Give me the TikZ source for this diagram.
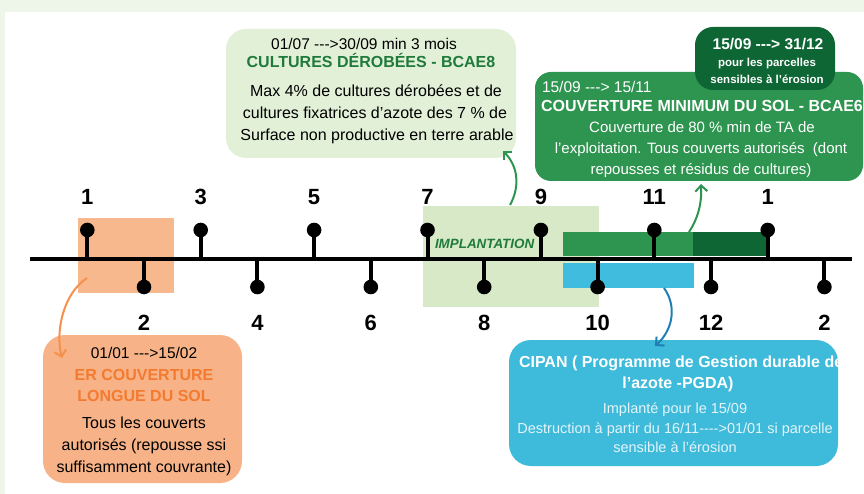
\documentclass[tikz,border=0pt]{standalone}
\usepackage{fontspec}
\setmainfont{Liberation Sans}
\usetikzlibrary{arrows.meta}
\definecolor{bgl}{HTML}{EEF6EA}
\definecolor{orsq}{HTML}{F8B88E}
\definecolor{orbox}{HTML}{F7B387}
\definecolor{implg}{HTML}{D7E9C7}
\definecolor{topg}{HTML}{E2F0D7}
\definecolor{medg}{HTML}{2E9550}
\definecolor{darkg}{HTML}{0D6633}
\definecolor{bluebar}{HTML}{40BDDE}
\definecolor{bluebox}{HTML}{3EBADB}
\definecolor{txtg}{HTML}{1F7A3B}
\definecolor{txto}{HTML}{F47A30}
\definecolor{arrg}{HTML}{2E9550}
\definecolor{arrb}{HTML}{1F7FB3}
\definecolor{arro}{HTML}{F5914E}
\definecolor{lightw}{HTML}{E4F5FA}
\newcommand{\dsh}{-{}}
\begin{document}
\begin{tikzpicture}[x=1pt,y=-1pt,
  rect/.style={inner sep=0pt,outer sep=0pt,draw=none},
  box/.style={inner sep=0pt,outer sep=0pt,draw=none},
  txt/.style={inner sep=0pt,outer sep=0pt,anchor=base},
  fA/.style={font=\fontsize{15.5}{18}\selectfont},
  fB/.style={font=\bfseries\fontsize{16}{19}\selectfont},
  fC/.style={font=\fontsize{16}{19}\selectfont},
  fD/.style={font=\fontsize{15}{18}\selectfont},
  fE/.style={font=\fontsize{14.5}{17}\selectfont},
  num/.style={inner sep=0pt,anchor=base,font=\bfseries\fontsize{22}{24}\selectfont},
  stick/.style={line width=4pt},
  ball/.style={fill=black},
  arr/.style={line width=2pt,-{Straight Barb[length=6pt,width=12pt,line width=2pt]}}
]
\useasboundingbox (0,0) rectangle (864,494);
\fill[bgl] (0,0) rectangle (864,494);
\fill[white] (5,12) rectangle (864,494);

% background rectangles and bars
\node[rect,fill=orsq,minimum width=95.7pt,minimum height=75pt] (orsq) at (126.2,255.2) {};
\node[rect,fill=implg,minimum width=176.3pt,minimum height=100.7pt] (impl) at (510.9,256.4) {};
\node[rect,fill=medg,minimum width=130pt,minimum height=24.3pt] (gbar) at (627.7,243.9) {};
\node[rect,fill=darkg,minimum width=76.3pt,minimum height=24.3pt] (dbar) at (730.8,243.9) {};
\node[rect,fill=bluebar,minimum width=130.7pt,minimum height=25pt] (bbar) at (628.7,275.2) {};
\node[txt,font=\bfseries\itshape\fontsize{13.4}{15}\selectfont,text=txtg,anchor=west] (implt) at (435,243.5) {IMPLANTATION};

% main line
\coordinate (lstart) at (30,259);
\coordinate (lend) at (852,259);
\draw[line width=4pt] (lstart) -- (lend);

% ticks
\foreach \k/\lab in {1/1,3/3,5/5,7/7,9/9,11/11,13/1}{
  \pgfmathsetmacro{\xx}{87.3+56.7*(\k-1)}
  \coordinate (up\k) at (\xx,259);
  \draw[stick] (up\k) -- ++(0,-29);
  \fill[ball] (\xx,230) circle (7.3pt);
  \node[num] (n\k) at (\xx,205) {\lab};
}
\foreach \k/\lab in {2/2,4/4,6/6,8/8,10/10,12/12,14/2}{
  \pgfmathsetmacro{\xx}{87.3+56.7*(\k-1)}
  \coordinate (dn\k) at (\xx,259);
  \draw[stick] (dn\k) -- ++(0,28);
  \fill[ball] (\xx,287) circle (7.3pt);
  \node[num] (n\k) at (\xx,330) {\lab};
}

% top light green box
\node[box,fill=topg,rounded corners=20pt,minimum width=290pt,minimum height=129pt] (derob) at (371,93.5) {};
\node[txt,fA] (d1) at (364,49.5) {01/07 \dsh\dsh\dsh>30/09 min 3 mois};
\node[txt,fB,text=txtg] (d2) at (371,68) {CULTURES DÉROBÉES - BCAE8};
\node[txt,fC] (d3) at (376,97) {Max 4\% de cultures dérobées et de};
\node[txt,fC] (d4) at (375,119) {cultures fixatrices d’azote des 7 \% de};
\node[txt,fC] (d5) at (377,141) {Surface non productive en terre arable};

% big green box
\node[box,fill=medg,rounded corners=16pt,minimum width=328pt,minimum height=109pt] (couv) at (699,126.5) {};
\node[txt,fA,text=white,anchor=base west] (c1) at (542,92.5) {15/09 \dsh\dsh\dsh> 15/11};
\node[txt,fB,text=white] (c2) at (702,112) {COUVERTURE MINIMUM DU SOL - BCAE6};
\node[txt,fD,text=white] (c3) at (702,132.5) {Couverture de 80 \% min de TA de};
\node[txt,fD,text=white] (c4) at (701,153.5) {l’exploitation. Tous couverts autorisés\ \ (dont};
\node[txt,fD,text=white] (c5) at (701,174.5) {repousses et résidus de cultures)};

% dark green box
\node[box,fill=darkg,rounded corners=18pt,minimum width=140pt,minimum height=63pt] (eros) at (765,58.5) {};
\node[txt,font=\bfseries\fontsize{15.5}{18}\selectfont,text=white] (e1) at (768,49.5) {15/09 \dsh\dsh\dsh> 31/12};
\node[txt,font=\bfseries\fontsize{11.5}{14}\selectfont,text=white] (e2) at (767,67) {pour les parcelles};
\node[txt,font=\bfseries\fontsize{11.5}{14}\selectfont,text=white] (e3) at (767,83.5) {sensibles à l'érosion};

% orange box
\node[box,fill=orbox,rounded corners=22pt,minimum width=199pt,minimum height=148pt] (orb) at (142.5,409) {};
\node[txt,fA] (o1) at (144,358.5) {01/01 \dsh\dsh\dsh>15/02};
\node[txt,fB,text=txto] (o2) at (144,380) {ER COUVERTURE};
\node[txt,fB,text=txto] (o3) at (144,401.5) {LONGUE DU SOL};
\node[txt,fC] (o4) at (144,428.5) {Tous les couverts};
\node[txt,fC] (o5) at (144,450) {autorisés (repousse ssi};
\node[txt,fC] (o6) at (144,472.5) {suffisamment couvrante)};

% blue box
\node[box,fill=bluebox,rounded corners=22pt,minimum width=329pt,minimum height=126pt] (cipan) at (673.5,403) {};
\node[txt,fB,text=white,anchor=base west] (b1) at (519,367.5) {CIPAN ( Programme de Gestion durable de};
\node[txt,fB,text=white] (b2) at (678,388.5) {l’azote -PGDA)};
\node[txt,fE,text=lightw] (b3) at (675,413) {Implanté pour le 15/09};
\node[txt,fE,text=lightw] (b4) at (675,433) {Destruction à partir du 16/11\dsh\dsh\dsh\dsh>01/01 si parcelle};
\node[txt,fE,text=lightw] (b5) at (675,452) {sensible à l’érosion};

% connectors
\coordinate (a1s) at (510,205);
\coordinate (a1e) at (503,151);
\draw[arr,arrg] (a1s) .. controls (521,185) and (517,165) .. (a1e);
\coordinate (a2s) at (689,232);
\coordinate (a2e) at (701,184);
\draw[arr,arrg] (a2s) .. controls (697,220) and (702,205) .. (a2e);
\coordinate (a3s) at (664,288);
\coordinate (a3e) at (655,346);
\draw[arr,arrb] (a3s) .. controls (677,306) and (673,330) .. (a3e);
\coordinate (a4s) at (87,278);
\coordinate (a4e) at (62,358);
\draw[arr,arro] (a4s) .. controls (64,293) and (55,330) .. (a4e);
\end{tikzpicture}
\end{document}
